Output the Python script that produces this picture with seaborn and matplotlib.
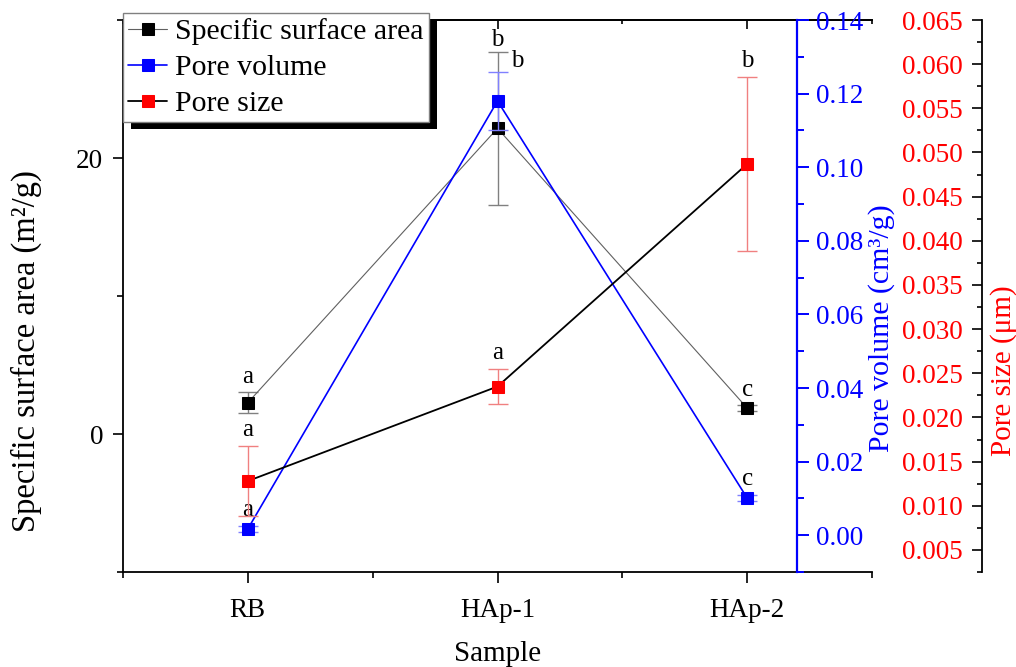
import matplotlib
matplotlib.use("Agg")
import matplotlib.pyplot as plt
import numpy as np
import pandas as pd
import seaborn as sns
from matplotlib.patches import Rectangle
from matplotlib.ticker import FormatStrFormatter, MultipleLocator

# values
samples = ["RB", "HAp-1", "HAp-2"]
ssa = [2.27, 22.15, 1.88]
ssa_err = [0.75, 5.55, 0.2]
ssa_sig = ["a", "b", "c"]
pore_volume = [0.0017, 0.118, 0.0101]
pore_volume_err = [0.0008, 0.0078, 0.0008]
pore_volume_sig = ["a", "b", "c"]
pore_size = [0.0128, 0.0235, 0.0487]
pore_size_err = [0.004, 0.002, 0.0099]
pore_size_sig = ["a", "a", "b"]

sns.set_theme(style="ticks")
plt.rcParams["font.family"] = ["Liberation Serif", "DejaVu Serif"]
plt.rcParams.update({
    "axes.edgecolor": "black",
    "axes.labelcolor": "black",
    "text.color": "black",
    "xtick.color": "black",
    "ytick.color": "black",
})

df = pd.DataFrame({
    "pos": np.arange(1, len(samples) + 1),
    "ssa": ssa,
    "pv": pore_volume,
    "ps": pore_size,
})

W, H = 1016, 667
fig = plt.figure(figsize=(W / 100, H / 100), dpi=100)
ax = fig.add_axes([123 / W, 95 / H, 749 / W, 552 / H])
ax2 = ax.twinx()
ax3 = ax.twinx()

# specific surface area (left axis)
ax.errorbar(df["pos"], df["ssa"], yerr=ssa_err, fmt="none", ecolor="#808080",
            elinewidth=1.0, capsize=7, capthick=1.0, zorder=1.5)
sns.lineplot(data=df, x="pos", y="ssa", ax=ax, color="#606060", lw=0.8,
             marker="s", markersize=8.5, markerfacecolor="black",
             markeredgecolor="black", errorbar=None, legend=False,
             label="Specific surface area")

# pore volume (blue axis)
ax2.errorbar(df["pos"], df["pv"], yerr=pore_volume_err, fmt="none",
             ecolor="#8080ff", elinewidth=1.0, capsize=7, capthick=1.0, zorder=1.5)
sns.lineplot(data=df, x="pos", y="pv", ax=ax2, color="blue", lw=1.2,
             marker="s", markersize=8.5, markerfacecolor="blue",
             markeredgecolor="blue", errorbar=None, legend=False,
             label="Pore volume")

# pore size (red axis)
ax3.errorbar(df["pos"], df["ps"], yerr=pore_size_err, fmt="none",
             ecolor="#f08080", elinewidth=1.0, capsize=7, capthick=1.0, zorder=1.5)
sns.lineplot(data=df, x="pos", y="ps", ax=ax3, color="black", lw=1.3,
             marker="s", markersize=8.5, markerfacecolor="red",
             markeredgecolor="red", errorbar=None, legend=False,
             label="Pore size")

# significance letters
nudge = {("pv", 1): (14, 4), ("ssa", 1): (0, 4)}
for key, a, vals, errs, sig in [("ssa", ax, ssa, ssa_err, ssa_sig),
                                ("pv", ax2, pore_volume, pore_volume_err, pore_volume_sig),
                                ("ps", ax3, pore_size, pore_size_err, pore_size_sig)]:
    for i, (v, e, s) in enumerate(zip(vals, errs, sig)):
        a.annotate(s, (df["pos"][i], v + e), xytext=nudge.get((key, i), (0, 7)),
                   textcoords="offset points", ha="center", va="baseline",
                   fontsize=18)

# x axis
ax.set_xlim(0.5, len(samples) + 0.5)
ax.set_xticks(df["pos"], samples)
ax.xaxis.set_minor_locator(MultipleLocator(0.5))
ax.tick_params(axis="x", which="major", direction="out", length=8, width=1.2,
               labelsize=19.5, pad=11, top=False)
ax.tick_params(axis="x", which="minor", direction="out", length=4.5, width=1.2,
               top=False)
ax.set_xlabel("Sample", fontsize=21, labelpad=13)

top = ax.secondary_xaxis("top")
top.set_xticks(df["pos"])
top.xaxis.set_minor_locator(MultipleLocator(0.5))
top.tick_params(axis="x", which="major", direction="in", length=6.5, width=1.2,
                labeltop=False)
top.tick_params(axis="x", which="minor", direction="in", length=3, width=1.2)
top.spines["top"].set_linewidth(1.3)

# left axis
ax.set_ylim(-10, 30)
ax.yaxis.set_major_locator(MultipleLocator(20))
ax.yaxis.set_minor_locator(MultipleLocator(10))
ax.tick_params(axis="y", which="major", direction="out", length=7.2, width=1.2,
               labelsize=19.5, pad=7, right=False)
ax.tick_params(axis="y", which="minor", direction="out", length=4.3, width=1.2,
               right=False)
ax.set_ylabel("Specific surface area (m²/g)", fontsize=23.5)
ax.yaxis.set_label_coords(-0.108, 0.40)
for side in ["left", "bottom", "top"]:
    ax.spines[side].set_linewidth(1.3)
ax.spines["right"].set_visible(False)

# blue axis
ax2.set_ylim(-0.01, 0.14)
ax2.yaxis.set_major_locator(MultipleLocator(0.02))
ax2.yaxis.set_minor_locator(MultipleLocator(0.01))
ax2.yaxis.set_major_formatter(FormatStrFormatter("%.2f"))
ax2.spines["right"].set_position(("axes", 0.9))
ax2.spines["right"].set_color("blue")
ax2.spines["right"].set_linewidth(1.6)
for side in ["left", "bottom", "top"]:
    ax2.spines[side].set_visible(False)
ax2.tick_params(axis="y", which="major", direction="out", length=8.6, width=1.4,
                colors="blue", labelsize=19.5, pad=5)
ax2.tick_params(axis="y", which="minor", direction="out", length=5, width=1.4,
                colors="blue")
ax2.set_ylabel("Pore volume (cm³/g)", fontsize=21.5, color="blue")
ax2.yaxis.set_label_coords(0.995, 0.442)

# red axis
ax3.set_ylim(0.0025, 0.065)
ax3.yaxis.tick_left()
ax3.yaxis.set_major_locator(MultipleLocator(0.005))
ax3.yaxis.set_minor_locator(MultipleLocator(0.0025))
ax3.yaxis.set_major_formatter(FormatStrFormatter("%.3f"))
ax3.spines["left"].set_position(("axes", 1.1469))
ax3.spines["left"].set_linewidth(1.3)
for side in ["right", "bottom", "top"]:
    ax3.spines[side].set_visible(False)
ax3.tick_params(axis="y", which="major", direction="out", length=7.2, width=1.2,
                labelcolor="red", labelsize=19.5, pad=6.5)
ax3.tick_params(axis="y", which="minor", direction="out", length=3.6, width=1.2)
ax3.set_ylabel("Pore size (μm)", fontsize=21, color="red")
ax3.yaxis.set_label_position("right")
ax3.yaxis.set_label_coords(1.158, 0.364)

# legend with an Origin-style solid shadow
handles, labels = [], []
for a in (ax, ax2, ax3):
    h, l = a.get_legend_handles_labels()
    handles += h
    labels += l
leg = ax3.legend(handles, labels, loc="upper left",
                 bbox_to_anchor=(123 / W, 1 - 13 / H), bbox_transform=fig.transFigure,
                 borderaxespad=0, fancybox=False, frameon=True, edgecolor="0.5",
                 framealpha=1, fontsize=21.5, handlelength=1.3, handletextpad=0.25,
                 labelspacing=0.3, borderpad=0.18)
leg.get_frame().set_linewidth(1.0)

fig.canvas.draw()
bb = leg.get_window_extent()
shadow = Rectangle(((bb.x0 + 8) / W, (bb.y0 - 7) / H), bb.width / W, bb.height / H,
                   transform=fig.transFigure, facecolor="black", edgecolor="none",
                   zorder=4.5, clip_on=False)
ax3.add_artist(shadow)

fig.savefig("out.png", dpi=100)
plt.close(fig)
